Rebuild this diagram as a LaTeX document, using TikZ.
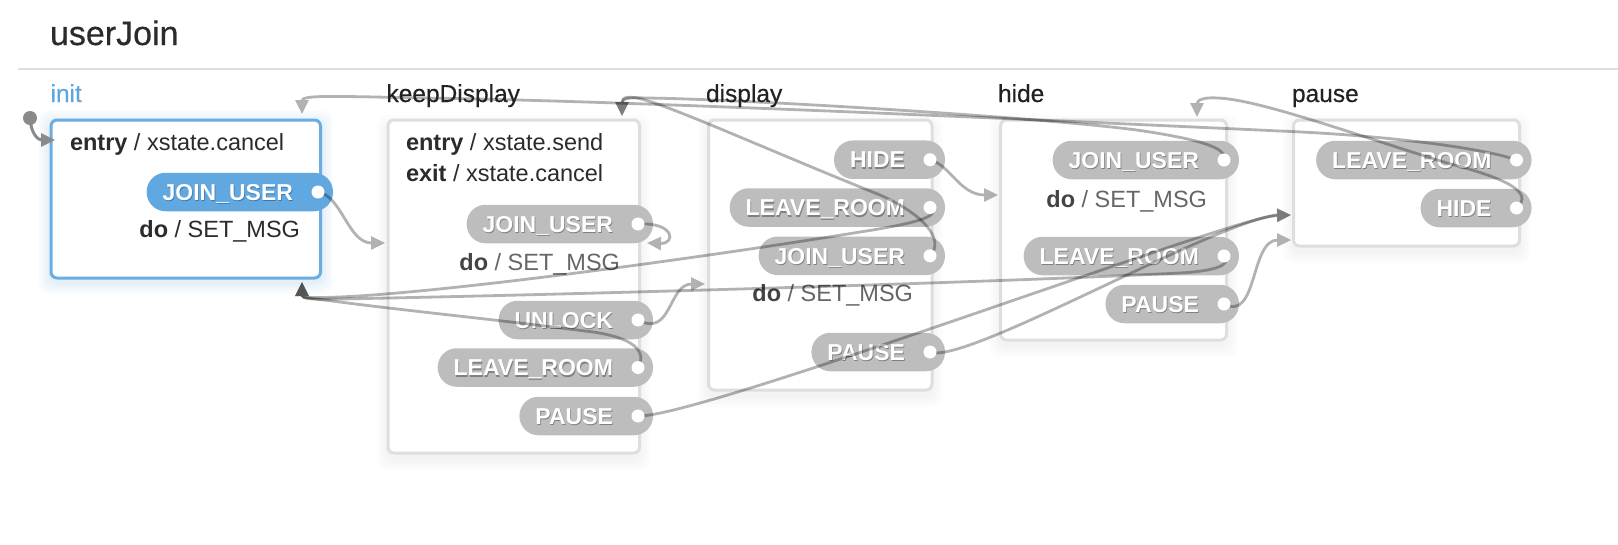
\documentclass[tikz,border=0pt]{standalone}
\usepackage{fontspec}
\setmainfont{Liberation Sans}
\newfontfamily\medfont[FakeBold=0.45]{Liberation Sans}
\usetikzlibrary{arrows.meta}
\definecolor{pillgray}{HTML}{BDBDBD}
\definecolor{pillblue}{HTML}{62A8E0}
\definecolor{boxgray}{HTML}{DEDEDE}
\definecolor{boxblue}{HTML}{6AADE2}
\definecolor{labelblue}{HTML}{5FA6DE}
\definecolor{txt}{HTML}{2B2B2B}
\definecolor{lbltxt}{HTML}{222222}
\definecolor{dotxt}{HTML}{444444}
\definecolor{settxt}{HTML}{666666}
\definecolor{pshadow}{HTML}{808080}
\definecolor{bshadowc}{HTML}{3A78AE}
\definecolor{initgray}{HTML}{8A8A8A}
\definecolor{sepline}{HTML}{DDDDDD}
\newcommand{\ptxt}[2]{\makebox[0pt][l]{\raisebox{-1.3pt}{\hspace{0.7pt}\textcolor{#1}{#2}}}\textcolor{white}{#2}}
\newcommand{\bodyfont}{\fontsize{23.5}{28}\selectfont}
\pgfdeclarelayer{edgelayer}
\pgfdeclarelayer{toplayer}
\pgfsetlayers{main,edgelayer,toplayer}
\newcommand{\mkpill}[6]{%
  \node[pill,fill=#5] (#1) at (#2,#3) {\hspace*{16pt}\ptxt{#6}{#4}\hspace*{40pt}};
  \begin{pgfonlayer}{toplayer}\node[dotn] (#1d) at ([xshift=-15pt]#1.east) {};\end{pgfonlayer}}
\newcommand{\boxshade}[4]{%
  \foreach \g in {2,5,8,11}{\fill[black,opacity=0.012,rounded corners=10pt] ({#1-\g},{#2+6-\g}) rectangle ({#3+\g},{#4+6+\g});}}
\newcommand{\trans}[1]{\begin{scope}[transparency group,opacity=0.3]\draw[trline] #1;\end{scope}}
\begin{document}
\begin{tikzpicture}[x=1pt,y=-1pt,
  every node/.style={inner sep=0pt,outer sep=0pt},
  statebox/.style={draw=boxgray,line width=3pt,rounded corners=6pt,fill=white,anchor=north west},
  pill/.style={rounded corners=19pt,minimum height=38.5pt,anchor=east,font=\fontsize{23}{27}\selectfont\bfseries,text height=16.5pt,text depth=0pt},
  dotn/.style={circle,fill=white,minimum size=13pt},
  lbl/.style={anchor=base west,font=\medfont\fontsize{24.5}{29}\selectfont,text=lbltxt},
  act/.style={anchor=base west,font=\bodyfont,text=txt},
  doline/.style={anchor=base east,font=\bodyfont},
  trline/.style={draw=black,line width=2.8pt,-{Triangle[length=14pt,width=13pt]}},
  initedge/.style={draw=initgray,line width=3pt,-{Triangle[length=14pt,width=13pt]}}]
\useasboundingbox (0,0) rectangle (1618,544);
\fill[white] (0,0) rectangle (1618,544);
% title
\node[anchor=base west,font=\medfont\fontsize{34}{40}\selectfont,text=txt] (title) at (50,45) {userJoin};
\draw[sepline,line width=1.5pt] (18,69) -- (1618,69);
% shadows
\foreach \g in {3,6,9,12}{\fill[boxblue,opacity=0.045,rounded corners=10pt] ({51-\g},{120-\g+3}) rectangle ({320.5+\g},{278+\g+3});}
\boxshade{388}{120}{639.5}{453}
\boxshade{708.5}{120}{932}{390}
\boxshade{1000.5}{120}{1226.5}{340}
\boxshade{1293.5}{120}{1519.5}{246}
% state boxes
\node[statebox,draw=boxblue,minimum width=269.5pt,minimum height=158pt] (init) at (51,120) {};
\node[statebox,minimum width=251.5pt,minimum height=333pt] (keep) at (388,120) {};
\node[statebox,minimum width=223.5pt,minimum height=270pt] (disp) at (708.5,120) {};
\node[statebox,minimum width=226pt,minimum height=220pt] (hide) at (1000.5,120) {};
\node[statebox,minimum width=226pt,minimum height=126pt] (paus) at (1293.5,120) {};
% actions
\node[act] (initEntry) at (70,150) {\textbf{entry} / xstate.cancel};
\node[doline,text=txt] (initDo) at (300,237) {\textbf{do} / SET\_MSG};
\node[act] (keepEntry) at (406,150) {\textbf{entry} / xstate.send};
\node[act] (keepExit) at (406,181) {\textbf{exit} / xstate.cancel};
\node[doline,text=settxt] (keepDo) at (620,270) {\textcolor{dotxt}{\textbf{do}} / SET\_MSG};
\node[doline,text=settxt] (dispDo) at (913,301) {\textcolor{dotxt}{\textbf{do}} / SET\_MSG};
\node[doline,text=settxt] (hideDo) at (1207,207.5) {\textcolor{dotxt}{\textbf{do}} / SET\_MSG};
% event pills
\mkpill{iJ}{333}{192}{JOIN\_USER}{pillblue}{bshadowc}
\mkpill{kJ}{653}{224}{JOIN\_USER}{pillgray}{pshadow}
\mkpill{kU}{653}{320}{UNLOCK}{pillgray}{pshadow}
\mkpill{kL}{653}{367.5}{LEAVE\_ROOM}{pillgray}{pshadow}
\mkpill{kP}{653}{416}{PAUSE}{pillgray}{pshadow}
\mkpill{dH}{945}{159.7}{HIDE}{pillgray}{pshadow}
\mkpill{dL}{945}{207.5}{LEAVE\_ROOM}{pillgray}{pshadow}
\mkpill{dJ}{945}{255.8}{JOIN\_USER}{pillgray}{pshadow}
\mkpill{dP}{945}{352}{PAUSE}{pillgray}{pshadow}
\mkpill{hJ}{1239}{160}{JOIN\_USER}{pillgray}{pshadow}
\mkpill{hL}{1239}{256}{LEAVE\_ROOM}{pillgray}{pshadow}
\mkpill{hP}{1239}{304}{PAUSE}{pillgray}{pshadow}
\mkpill{pL}{1531.5}{160}{LEAVE\_ROOM}{pillgray}{pshadow}
\mkpill{pH}{1531.5}{208}{HIDE}{pillgray}{pshadow}
% labels and initial marker
\begin{pgfonlayer}{toplayer}
\node[lbl,text=labelblue] (initLbl) at (50.5,102) {init};
\node[lbl] (keepLbl) at (386.5,102) {keepDisplay};
\node[lbl] (dispLbl) at (706,102) {display};
\node[lbl] (hideLbl) at (998,102) {hide};
\node[lbl] (pausLbl) at (1292,102) {pause};
\node[circle,fill=initgray,minimum size=14pt] (start) at (30,118) {};
\end{pgfonlayer}
% transitions
\begin{pgfonlayer}{edgelayer}
\draw[initedge] (start.center) .. controls (31,134) and (38,140) .. (55,140);
\trans{(iJd.center) .. controls (342,196) and (348,243) .. (385,243)}
\trans{(kJd.center) .. controls (675,222) and (676,244) .. (647,243)}
\trans{(kUd.center) .. controls (672,338) and (668,284) .. (705,284)}
\trans{(kLd.center) .. controls (647,352) and (635,338) .. (593,332) .. controls (500,320) and (400,310) .. (340,302) .. controls (310,298) and (302,298) .. (302,282)}
\trans{(dLd.center) .. controls (940,215) and (925,222) .. (860,232) .. controls (700,258) and (450,292) .. (340,297) .. controls (310,298) and (302,298) .. (302,282)}
\trans{(hLd.center) .. controls (1232,265) and (1215,271) .. (1180,273) .. controls (1000,282) and (600,294) .. (340,299) .. controls (310,299.5) and (302,299) .. (302,282)}
\trans{(kPd.center) .. controls (700,418) and (1240,215) .. (1291,215)}
\trans{(dPd.center) .. controls (965,366) and (1220,218) .. (1291,215)}
\trans{(hPd.center) .. controls (1258,322) and (1250,240) .. (1291,240)}
\trans{(dHd.center) .. controls (950,165) and (960,195) .. (998,195)}
\trans{(dJd.center) .. controls (945,240) and (925,215) .. (880,195) .. controls (780,155) and (680,110) .. (645,100) .. controls (628,95) and (622,97) .. (622,116)}
\trans{(hJd.center) .. controls (1228,148) and (1200,140) .. (1150,132) .. controls (1080,120) and (750,99) .. (645,98) .. controls (628,97) and (622,99) .. (622,116)}
\trans{(pLd.center) .. controls (1490,150) and (1400,136) .. (1280,131) .. controls (1000,118) and (600,100) .. (420,98) .. controls (330,96) and (302,95) .. (302,114)}
\trans{(pHd.center) .. controls (1535,192) and (1505,178) .. (1447,163) .. controls (1350,133) and (1260,100) .. (1218,98) .. controls (1204,97) and (1197,100) .. (1197,117)}
\end{pgfonlayer}
\end{tikzpicture}
\end{document}
